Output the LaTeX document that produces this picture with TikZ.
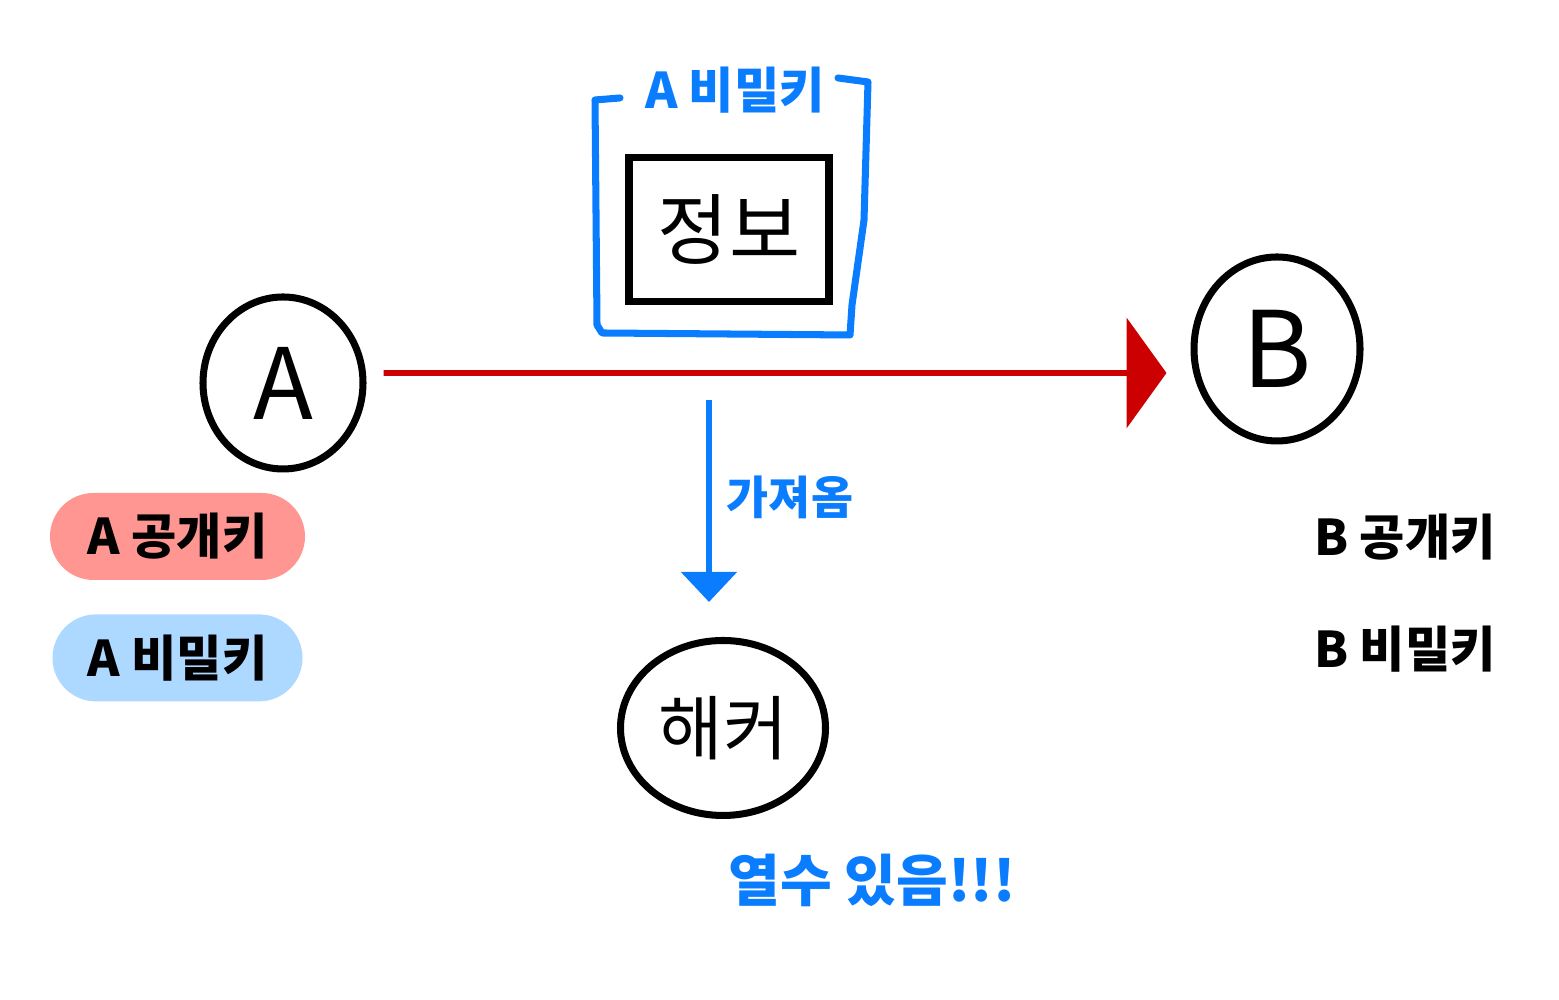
\documentclass[tikz,border=0pt]{standalone}
\usepackage{fontspec}
\setmainfont{Noto Sans CJK KR}
\usepackage{tikz}
\usetikzlibrary{arrows.meta,shapes,positioning}
\usepackage{xcolor}
\definecolor{skred}{RGB}{204,0,0}
\definecolor{skblue}{RGB}{10,125,255}
\definecolor{skpink}{RGB}{255,150,145}
\definecolor{sklightblue}{RGB}{173,216,255}
\tikzstyle{person} = [ellipse, draw=black, line width=2pt, text centered, inner sep=0pt]
\tikzstyle{keypill} = [rectangle, rounded corners=0.435cm, minimum width=2.5cm, minimum height=0.87cm, text centered, font=\fontsize{14}{16}\selectfont\bfseries]
\tikzstyle{sendarrow} = [line width=1.6pt, color=skred, -{Triangle[width=1.1cm,length=0.4cm]}]
\tikzstyle{stealarrow} = [line width=1.6pt, color=skblue, -{Triangle[width=0.55cm,length=0.3cm]}]
\tikzstyle{bluenote} = [color=skblue, font=\fontsize{13}{15}\selectfont\bfseries]

\begin{document}
\begin{tikzpicture}
\useasboundingbox (0,0) rectangle (15.59,10);
% People
\node (A) [person, minimum width=1.6cm, minimum height=1.72cm] at (2.83,6.17) {\fontsize{28}{30}\selectfont A};
\node (B) [person, minimum width=1.66cm, minimum height=1.84cm] at (12.77,6.51) {\fontsize{30}{32}\selectfont B};
\node (hacker) [person, minimum width=2.05cm, minimum height=1.75cm] at (7.23,2.72) {\fontsize{20}{22}\selectfont 해커};

% Message locked with A's key
\node (info) [rectangle, draw=black, line width=2pt, minimum width=2cm, minimum height=1.44cm] at (7.29,7.70) {\fontsize{22}{24}\selectfont 정보};
\node (lock) [bluenote, font=\fontsize{14}{16}\selectfont\bfseries] at (7.35,9.10) {A 비밀키};
\draw[skblue, line width=2pt, line join=round, line cap=round]
  (6.20,9.02) -- (5.95,9.00) -- (5.97,6.75) -- (6.02,6.67) -- (8.50,6.65)
  -- (8.52,6.95) -- (8.64,7.80) -- (8.68,9.18) -- (8.38,9.22);

% Keys
\node (apub) [keypill, fill=skpink, minimum width=2.55cm] at (1.775,4.635) {A 공개키};
\node (apriv) [keypill, fill=sklightblue, below=0.33cm of apub] {A 비밀키};
\node (bpub) [keypill] at (14.05,4.63) {B 공개키};
\node (bpriv) [keypill, below=0.24cm of bpub] {B 비밀키};

% Arrows
\draw[sendarrow] ([xshift=0.17cm,yshift=0.1cm]A.east) -- ([xshift=-0.24cm,yshift=-0.24cm]B.west);
\coordinate (take) at (7.09,6.00);
\draw[stealarrow] (take) -- ([xshift=-0.14cm,yshift=0.35cm]hacker.north);
\node (took) [bluenote] at (7.90,5.03) {가져옴};
\node (open) [bluenote, font=\fontsize{16}{18}\selectfont\bfseries] at (8.72,1.20) {열수 있음!!!};
\end{tikzpicture}
\end{document}
